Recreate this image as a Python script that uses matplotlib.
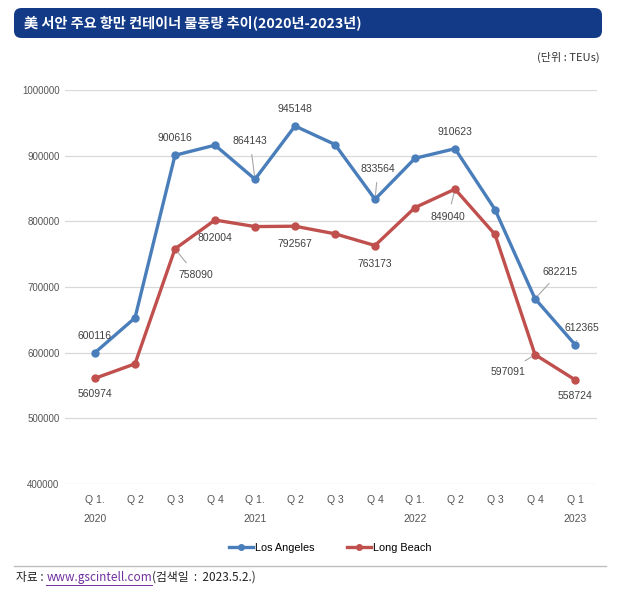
import matplotlib
matplotlib.use("Agg")
import matplotlib.pyplot as plt
from matplotlib.patches import FancyBboxPatch
from matplotlib.lines import Line2D

plt.rcParams['font.family'] = ['Noto Sans CJK KR', 'DejaVu Sans']

categories = ["Q 1.\n2020", "Q 2", "Q 3", "Q 4", "Q 1.\n2021", "Q 2", "Q 3", "Q 4",
              "Q 1.\n2022", "Q 2", "Q 3", "Q 4", "Q 1\n2023"]
los_angeles = [600116, 653000, 900616, 916000, 864143, 945148, 917000, 833564,
               896000, 910623, 818000, 682215, 612365]
long_beach = [560974, 583000, 758090, 802004, 792000, 792567, 781000, 763173,
              821000, 849040, 780000, 597091, 558724]
yticks = [400000, 500000, 600000, 700000, 800000, 900000, 1000000]

# labels: (index -> dx px, dy px, leader)
la_labels = {0: (0, 17, False), 2: (0, 17, False), 4: (-5, 38, True), 5: (0, 17, False),
             7: (3, 30, True), 9: (0, 17, False), 11: (25, 27, True), 12: (7, 17, True)}
lb_labels = {0: (0, -16, False), 2: (21, -26, True), 3: (0, -18, False), 5: (0, -18, False),
             7: (0, -18, False), 9: (-7, -28, True), 11: (-27, -17, True), 12: (0, -16, False)}

W, H = 626, 603
fig = plt.figure(figsize=(W / 100, H / 100), dpi=100)

# title bar
bar = FancyBboxPatch((14 / W, 1 - 38 / H), (602 - 14) / W, 30 / H,
                     boxstyle="round,pad=0,rounding_size=0.012",
                     transform=fig.transFigure, facecolor="#123a87", edgecolor="none")
fig.patches.append(bar)
fig.text(24 / W, 1 - 23 / H, "美 서안 주요 항만 컨테이너 물동량 추이(2020년-2023년)",
         color="white", fontsize=10.2, fontweight="bold", va="center", ha="left")
fig.text(600 / W, 1 - 57 / H, "(단위 : TEUs)", color="#333333", fontsize=8,
         va="center", ha="right")

ax = fig.add_axes([65 / W, 1 - 484 / H, (597 - 65) / W, (484 - 90) / H])
x = list(range(len(categories)))
c_la = "#4a7ebb"
c_lb = "#c0504d"
ax.plot(x, los_angeles, color=c_la, lw=2.4, marker="o", ms=5, label="Los Angeles", zorder=3)
ax.plot(x, long_beach, color=c_lb, lw=2.4, marker="o", ms=5, label="Long Beach", zorder=3)

ax.set_ylim(400000, 1000000)
ax.set_xlim(-0.75, 12.55)
ax.set_yticks(yticks)
ax.set_yticklabels([str(v) for v in yticks], fontsize=7, color="#555555",
                   family=['Liberation Sans', 'DejaVu Sans'])
ax.set_xticks(x)
ax.set_xticklabels(categories, fontsize=7.5, color="#555555", linespacing=2.15,
                   family=['Liberation Sans', 'DejaVu Sans'])
ax.tick_params(axis='x', length=0, pad=8)
ax.tick_params(axis='y', length=0, pad=4)
ax.yaxis.grid(True, color="#d9d9d9", lw=0.9)
ax.set_axisbelow(True)
for s in ax.spines.values():
    s.set_visible(False)

def annotate(series, labels):
    for i, (dx, dy, leader) in labels.items():
        v = series[i]
        kw = {}
        if leader:
            kw["arrowprops"] = dict(arrowstyle="-", color="#a6a6a6", lw=0.8, shrinkA=4, shrinkB=3)
        ax.annotate(str(v), (i, v), xytext=(dx, dy), textcoords="offset pixels",
                    ha="center", va="center", fontsize=7.5, color="#404040",
                    family=['Liberation Sans', 'DejaVu Sans'], **kw)

annotate(los_angeles, la_labels)
annotate(long_beach, lb_labels)

handles = [Line2D([0], [0], color=c_la, lw=2.4, marker="o", ms=4),
           Line2D([0], [0], color=c_lb, lw=2.4, marker="o", ms=4)]
fig.legend(handles, ["Los Angeles", "Long Beach"], loc="center",
           bbox_to_anchor=(330 / W, 1 - 548 / H), ncol=2, frameon=False,
           handlelength=2.2, handletextpad=0.2, columnspacing=3,
           prop={'family': ['Liberation Sans', 'DejaVu Sans'], 'size': 7.8})

fig.add_artist(Line2D([14 / W, 606 / W], [1 - 566 / H, 1 - 566 / H],
                      transform=fig.transFigure, color="#bfbfbf", lw=1))
t1 = fig.text(16 / W, 1 - 577 / H, "자료 : ", fontsize=8.5, color="#222222", va="center")
fig.canvas.draw()
r = fig.canvas.get_renderer()
bb = t1.get_window_extent(r)
t2 = fig.text(bb.x1 / W, 1 - 577 / H, "www.gscintell.com", fontsize=8.5, color="#7030a0",
              va="center")
bb2 = t2.get_window_extent(r)
fig.add_artist(Line2D([bb2.x0 / W, bb2.x1 / W], [(bb2.y0 - 1) / H, (bb2.y0 - 1) / H],
                      transform=fig.transFigure, color="#7030a0", lw=0.7))
fig.text(bb2.x1 / W, 1 - 577 / H, "(검색일  :  2023.5.2.)", fontsize=8.5, color="#222222",
         va="center")

fig.savefig("out.png", dpi=100)
